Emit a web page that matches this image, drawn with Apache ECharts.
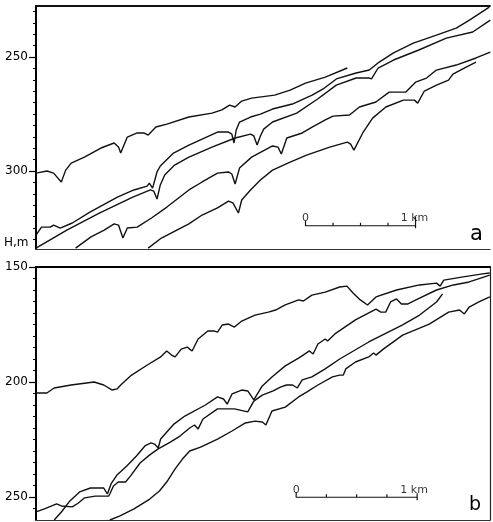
<!DOCTYPE html>
<html>
<head>
<meta charset="utf-8">
<script src="https://cdn.jsdelivr.net/npm/echarts@6/dist/echarts.min.js"></script>
<style>
html,body{margin:0;padding:0;background:#fff}
#chart{width:493px;height:522px}
</style>
</head>
<body>
<div id="chart"></div>
<script>
// panel a : [distance km, depth H m]
const profA1 = [[0,300.9],[0.10,300.0],[0.16,300.9],[0.23,304.8],[0.27,299.6],[0.32,296.5],[0.44,293.9],[0.59,289.9],[0.71,287.7],[0.75,289.5],[0.77,292.1],[0.83,285.1],[0.92,283.3],[0.98,283.3],[1.02,284.2],[1.09,280.7],[1.19,279.4],[1.39,276.3],[1.60,274.6],[1.69,273.2],[1.76,271.1],[1.81,271.9],[1.87,269.3],[1.96,268.0],[2.17,266.7],[2.31,264.5],[2.45,261.4],[2.63,258.8],[2.83,254.8]];
const profA2 = [[0,328.1],[0.05,324.6],[0.13,324.6],[0.16,323.7],[0.22,325.0],[0.33,322.8],[0.49,318.0],[0.74,311.4],[0.89,308.3],[1.01,306.6],[1.03,305.3],[1.06,307.5],[1.10,300.4],[1.13,297.8],[1.25,292.1],[1.39,288.6],[1.49,286.4],[1.65,282.9],[1.75,282.9],[1.78,283.8],[1.80,287.7],[1.82,282.0],[1.85,278.5],[1.95,276.3],[2.04,275.0],[2.15,272.8],[2.33,270.6],[2.51,266.7],[2.61,264.0],[2.73,259.6],[2.91,257.0],[3.03,255.7],[3.12,252.2],[3.25,248.2],[3.43,243.9],[3.64,240.4],[3.82,237.3],[3.94,233.8],[4.12,228.1]];
const profA3 = [[0,333.8],[0.28,325.9],[0.58,318.4],[0.88,311.4],[1.04,308.3],[1.07,308.8],[1.10,312.3],[1.13,306.1],[1.17,301.7],[1.26,297.4],[1.39,293.9],[1.60,289.5],[1.81,285.5],[1.95,283.8],[1.98,284.6],[2.01,288.6],[2.04,284.6],[2.07,281.6],[2.15,278.5],[2.37,274.6],[2.56,268.4],[2.73,262.3],[2.91,259.2],[3.03,259.2],[3.05,259.6],[3.11,254.8],[3.25,251.3],[3.48,246.9],[3.73,241.7],[3.97,239.0],[4.13,233.8]];
const profA4 = [[0.36,333.8],[0.50,328.9],[0.62,325.9],[0.71,323.2],[0.75,323.7],[0.79,329.4],[0.83,325.0],[0.92,324.6],[1.05,320.6],[1.19,315.8],[1.39,308.3],[1.51,304.8],[1.65,300.9],[1.75,300.4],[1.78,301.3],[1.81,305.7],[1.85,298.7],[1.96,293.9],[2.15,289.0],[2.20,289.5],[2.23,292.5],[2.28,285.5],[2.42,283.3],[2.51,280.7],[2.63,277.6],[2.70,275.9],[2.85,275.4],[2.94,271.9],[3.09,269.7],[3.21,265.4],[3.36,265.4],[3.45,261.0],[3.55,259.2],[3.64,255.7],[3.82,253.5],[4.00,250.4],[4.13,247.8]];
const profA5 = [[1.02,333.8],[1.14,329.4],[1.28,325.9],[1.39,323.2],[1.51,319.3],[1.65,316.2],[1.75,313.2],[1.79,314.0],[1.84,318.4],[1.87,312.7],[1.95,308.3],[2.04,303.9],[2.15,299.6],[2.31,296.1],[2.46,293.0],[2.67,289.5],[2.83,287.3],[2.86,288.2],[2.89,290.8],[2.97,283.3],[3.06,276.8],[3.18,271.9],[3.34,268.9],[3.44,268.9],[3.47,270.2],[3.53,264.9],[3.64,262.3],[3.75,260.1],[3.79,257.5],[3.91,254.4],[4.00,252.2]];

// panel b
const profB1 = [[0,204.8],[0.09,204.8],[0.15,202.6],[0.29,201.3],[0.48,200.0],[0.56,201.3],[0.63,203.5],[0.67,203.0],[0.70,201.3],[0.79,197.0],[0.92,192.6],[1.03,189.1],[1.08,186.5],[1.12,188.3],[1.15,189.1],[1.20,185.7],[1.25,184.8],[1.27,185.7],[1.29,186.5],[1.34,181.3],[1.42,177.8],[1.47,177.8],[1.50,178.3],[1.54,175.2],[1.59,174.8],[1.64,176.1],[1.70,173.5],[1.81,170.9],[1.92,169.6],[1.98,168.7],[2.06,166.5],[2.17,164.3],[2.21,164.8],[2.28,162.2],[2.39,160.9],[2.51,158.7],[2.57,158.3],[2.62,161.3],[2.68,164.3],[2.74,166.5],[2.81,163.0],[2.98,160.0],[3.17,157.8],[3.31,157.0],[3.34,158.3],[3.37,155.7],[3.53,154.3],[3.69,153.0],[3.75,152.6]];
const profB2 = [[0.15,260.0],[0.21,256.5],[0.28,251.7],[0.36,247.8],[0.45,246.1],[0.56,246.1],[0.59,248.7],[0.62,244.3],[0.67,240.4],[0.75,236.5],[0.83,232.2],[0.90,227.8],[0.95,226.5],[0.98,227.0],[1.01,228.7],[1.03,224.8],[1.14,218.3],[1.23,214.8],[1.40,210.0],[1.50,206.5],[1.55,207.4],[1.58,209.6],[1.62,205.2],[1.70,203.5],[1.75,203.9],[1.80,207.8],[1.87,201.7],[1.95,197.8],[2.06,193.0],[2.17,189.6],[2.26,186.5],[2.29,187.8],[2.33,183.5],[2.39,181.3],[2.41,182.2],[2.47,179.1],[2.64,173.0],[2.81,168.3],[2.85,169.6],[2.89,169.6],[2.93,165.2],[2.98,163.9],[3.02,166.1],[3.07,166.1],[3.14,164.3],[3.31,160.0],[3.45,157.8],[3.58,156.5],[3.75,153.5]];
const profB3 = [[0,256.5],[0.07,255.2],[0.17,253.0],[0.21,253.9],[0.30,254.3],[0.35,252.6],[0.40,250.4],[0.49,249.6],[0.60,249.6],[0.61,248.7],[0.64,245.2],[0.68,243.5],[0.74,243.5],[0.78,240.9],[0.86,235.2],[0.94,231.7],[1.01,229.1],[1.11,226.1],[1.19,223.5],[1.27,220.0],[1.31,218.7],[1.34,220.4],[1.38,216.1],[1.50,211.7],[1.64,211.7],[1.75,213.0],[1.80,208.3],[1.87,205.7],[1.96,203.9],[2.02,202.2],[2.07,201.3],[2.12,201.3],[2.16,202.6],[2.20,199.1],[2.28,197.8],[2.39,194.3],[2.51,190.0],[2.75,182.6],[3.03,175.2],[3.17,170.9],[3.31,165.2],[3.36,161.7]];
const profB4 = [[0.61,260.0],[0.69,258.3],[0.81,255.2],[0.94,250.9],[1.02,247.4],[1.08,243.5],[1.15,237.8],[1.21,233.5],[1.27,230.0],[1.36,228.3],[1.50,224.8],[1.62,221.3],[1.73,217.8],[1.81,217.0],[1.87,217.4],[1.90,218.7],[1.95,212.6],[2.06,210.9],[2.17,206.5],[2.24,204.3],[2.33,201.3],[2.45,197.8],[2.51,197.0],[2.54,197.0],[2.56,194.3],[2.64,191.3],[2.75,189.1],[2.79,187.4],[2.81,188.3],[2.87,185.7],[3.03,179.6],[3.25,174.8],[3.41,169.6],[3.50,168.7],[3.54,170.4],[3.58,167.4],[3.66,165.2],[3.75,163.0]];

// depth axis ticks / labels
const ticksA = [230,235,240,245,250,255,260,265,270,275,280,285,290,295,300,305,310,315,320,325,330];
const labelsA = [250,300];
const ticksB = [155,160,165,170,175,180,185,190,195,200,205,210,215,220,225,230,235,240,245,250,255];
const labelsB = [150,200,250];

// scale bar, km
const scaleTicks = [0,0.25,0.5,0.75,1];

let chart = echarts.init(document.getElementById('chart'));
const FONT = 'DejaVu Sans';

function profile(data, p){
    return {
        type:'line', data:data, xAxisIndex:p*2, yAxisIndex:p*2,
        symbol:'none', silent:true, animation:false,
        lineStyle:{color:'#111', width:1.4}
    }
}

// scale bar path: x0 km, y0 depth, small tick / end tick lengths in m
function scaleBar(p, x0, y0, tk, leftUp, rightUp, rightDown){
    let pts = [[x0, y0-leftUp],[x0,y0]];
    for(let i = 1; i < scaleTicks.length-1; i++){
        let x = x0 + scaleTicks[i];
        pts.push([x,y0],[x,y0-tk],[x,y0]);
    }
    let x1 = x0 + scaleTicks[scaleTicks.length-1];
    pts.push([x1,y0],[x1,y0-rightUp],[x1,y0+rightDown]);
    return [
        {type:'line', data:pts, xAxisIndex:p*2, yAxisIndex:p*2, symbol:'none', silent:true, animation:false,
         lineStyle:{color:'#111', width:1.2}},
        {type:'scatter', xAxisIndex:p*2, yAxisIndex:p*2, symbolSize:0, silent:true, animation:false,
         label:{show:true, position:'top', distance:2, color:'#000', fontSize:11, fontFamily:FONT},
         data:[
            {value:[x0,y0], label:{formatter:'0'}},
            {value:[x1,y0], label:{formatter:'1 km', offset:[p ? -3 : -1, 0]}}
         ]}
    ]
}

function depthAxes(g, min, max, ticks, labels){
    return [
        {gridIndex:g, type:'value', inverse:true, min:min, max:max, position:'left',
         axisLine:{show:true, lineStyle:{color:'#000', width:2}},
         axisTick:{show:true, customValues:ticks, length:3, lineStyle:{color:'#000', width:1}},
         axisLabel:{show:false}, splitLine:{show:false}},
        {gridIndex:g, type:'value', inverse:true, min:min, max:max, position:'left',
         axisLine:{show:false},
         axisTick:{show:true, customValues:labels, length:7, lineStyle:{color:'#000', width:1.2}},
         axisLabel:{customValues:labels, margin:8, color:'#000', fontSize:12, fontFamily:FONT},
         splitLine:{show:false}}
    ]
}

function distAxis(g, max, pos, w, c){
    return {gridIndex:g, type:'value', min:0, max:max, position:pos,
        axisLine:{show:true, onZero:false, lineStyle:{color:c, width:w}},
        axisTick:{show:false}, axisLabel:{show:false}, splitLine:{show:false}}
}

let yAxes = depthAxes(0, 227.6, 334.2, ticksA, labelsA).concat(depthAxes(1, 150, 260, ticksB, labelsB));
yAxes.push({gridIndex:1, type:'value', inverse:true, min:150, max:260, position:'right',
    axisLine:{show:true, lineStyle:{color:'#222', width:1.2}},
    axisTick:{show:false}, axisLabel:{show:false}, splitLine:{show:false}});

let series = [profA1,profA2,profA3,profA4,profA5].map(d => profile(d,0))
    .concat([profB1,profB2,profB3,profB4].map(d => profile(d,1)))
    .concat(scaleBar(0, 2.45, 324.0, 1.3, 2.2, 3.9, 1.1))
    .concat(scaleBar(1, 2.15, 250.1, 1.3, 2.2, 1.7, 1.3));

let option = {
    backgroundColor:'#fff',
    animation:false,
    grid:[
        {left:36, top:6, width:454, height:243},
        {left:36, top:267, width:454, height:253}
    ],
    xAxis:[
        distAxis(0, 4.127, 'bottom', 1.2, '#333'),
        distAxis(0, 4.127, 'top', 1.8, '#111'),
        distAxis(1, 3.752, 'bottom', 1.2, '#333'),
        distAxis(1, 3.752, 'top', 2, '#000')
    ],
    yAxis:yAxes,
    graphic:[
        {type:'text', left:4, top:237, style:{text:'H,m', fontSize:12, fontFamily:FONT, fill:'#000'}},
        {type:'text', left:470, top:224, style:{text:'a', fontSize:21, fontFamily:FONT, fill:'#000'}},
        {type:'text', left:469, top:496, style:{text:'b', fontSize:19, fontFamily:FONT, fill:'#000'}}
    ],
    series:series
};
chart.setOption(option, true);
</script>
</body>
</html>
